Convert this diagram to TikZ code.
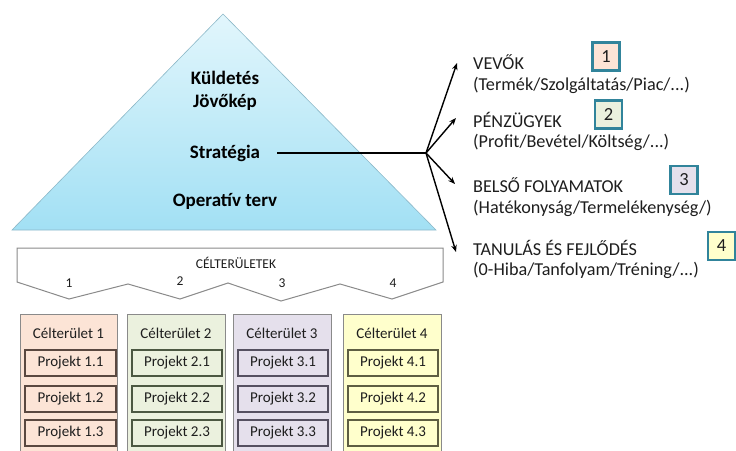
\documentclass[tikz,border=0pt]{standalone}
\usepackage{fontspec}
\setmainfont{Carlito}
\usetikzlibrary{arrows.meta}
\definecolor{pyrtop}{HTML}{E2F6FC}
\definecolor{pyrbot}{HTML}{A2E0F4}
\definecolor{pyredge}{HTML}{8CB8C8}
\definecolor{cA}{HTML}{FCE4D6}
\definecolor{cB}{HTML}{EBF1DE}
\definecolor{cC}{HTML}{E5E0EC}
\definecolor{cD}{HTML}{FFFFCC}
\definecolor{bA}{HTML}{5A4840}
\definecolor{bB}{HTML}{4C5842}
\definecolor{bC}{HTML}{555060}
\definecolor{bD}{HTML}{5E5E42}
\definecolor{teal}{HTML}{31849B}
\definecolor{txt}{HTML}{1E1E1E}
\definecolor{frame}{HTML}{8A8A8A}
\begin{document}
\begin{tikzpicture}[x=1pt,y=-1pt,
  pyr/.style={font=\fontsize{19}{21}\selectfont\bfseries, text=black, inner sep=0pt},
  cat/.style={font=\fontsize{18.2}{20}\selectfont, text=txt, inner sep=0pt, anchor=west},
  numbox/.style={draw=teal, line width=2.4pt, minimum width=27pt, minimum height=28pt, inner sep=0pt, font=\fontsize{18.5}{20}\selectfont, text=txt},
  small/.style={font=\fontsize{13.5}{16}\selectfont, text=txt, inner sep=0pt},
  head/.style={font=\fontsize{15}{17}\selectfont, text=txt, inner sep=0pt},
  proj/.style={draw, line width=1.3pt, minimum width=90pt, minimum height=26pt, inner sep=0pt, font=\fontsize{15}{17}\selectfont, text=txt},
  conn/.style={line width=1.4pt, black},
  arr/.style={line width=1.4pt, black, -{Stealth[length=7pt,width=5.5pt]}},
  banner/.style={draw=frame, line width=1pt, fill=white},
  col/.style={draw=frame, line width=1pt}
]
\useasboundingbox (0,0) rectangle (736,450);

% pyramid
\shade[top color=pyrtop, bottom color=pyrbot, draw=pyredge, line width=0.6pt]
  (223,14) -- (436,230) -- (12,230) -- cycle;
\node[pyr] (mission) at (225,78) {Küldetés};
\node[pyr] (vision) at (225,102) {Jövőkép};
\node[pyr] (strat) at (225,153) {Stratégia};
\node[pyr] (oper) at (225,201) {Operatív terv};

% connectors
\coordinate (lstart) at (277,153);
\coordinate (hub) at (426,153);
\coordinate (t1) at (457,63);
\coordinate (t2) at (456,118);
\coordinate (t3) at (455,184);
\coordinate (t4) at (456,252);
\draw[conn] (lstart) -- (hub);
\draw[arr] (hub) -- (t1);
\draw[arr] (hub) -- (t2);
\draw[arr] (hub) -- (t3);
\draw[arr] (hub) -- (t4);

% perspectives
\node[cat] (p1a) at (473,62) {VEVŐK};
\node[cat] (p1b) at (473,85) {(Termék/Szolgáltatás/Piac/...)};
\node[cat] (p2a) at (473,120) {PÉNZÜGYEK};
\node[cat] (p2b) at (473,142) {(Profit/Bevétel/Költség/...)};
\node[cat] (p3a) at (473,185) {BELSŐ FOLYAMATOK};
\node[cat] (p3b) at (473,208) {(Hatékonyság/Termelékenység/)};
\node[cat] (p4a) at (473,248) {TANULÁS ÉS FEJLŐDÉS};
\node[cat] (p4b) at (473,270) {(0-Hiba/Tanfolyam/Tréning/...)};

\node[numbox, fill=cA] (n1) at (606,56.5) {1};
\node[numbox, fill=cB] (n2) at (608.5,114.5) {2};
\node[numbox, fill=cC] (n3) at (684,180) {3};
\node[numbox, fill=cD] (n4) at (721.5,246) {4};

% banner
\draw[banner] (17,248) -- (443,248) -- (443,282) -- (392,299) -- (340,284) -- (281,301)
  -- (228,283) -- (180,299) -- (128,284) -- (69,299) -- (17,282) -- cycle;
\node[small] (celt) at (236,263) {CÉLTERÜLETEK};
\node[small] (k1) at (69,283) {1};
\node[small] (k2) at (180,281) {2};
\node[small] (k3) at (282,283) {3};
\node[small] (k4) at (393,283) {4};

% columns
\fill[cA] (20,314) rectangle (117,451);
\draw[col] (20,451) -- (20,314) -- (117,314) -- (117,451);
\fill[cB] (127,314) rectangle (225,451);
\draw[col] (127,451) -- (127,314) -- (225,314) -- (225,451);
\fill[cC] (233,314) rectangle (331,451);
\draw[col] (233,451) -- (233,314) -- (331,314) -- (331,451);
\fill[cD] (343,314) rectangle (441,451);
\draw[col] (343,451) -- (343,314) -- (441,314) -- (441,451);

\node[head] (h1) at (68.5,333) {Célterület 1};
\node[head] (h2) at (176,333) {Célterület 2};
\node[head] (h3) at (282,333) {Célterület 3};
\node[head] (h4) at (392,333) {Célterület 4};

\node[proj, draw=bA, fill=cA, minimum width=91pt] (a1) at (70.5,363) {Projekt 1.1};
\node[proj, draw=bA, fill=cA, minimum width=91pt] (a2) at (70.5,399) {Projekt 1.2};
\node[proj, draw=bA, fill=cA, minimum width=91pt] (a3) at (70.5,433) {Projekt 1.3};
\node[proj, draw=bB, fill=cB] (b1) at (177,363) {Projekt 2.1};
\node[proj, draw=bB, fill=cB] (b2) at (177,399) {Projekt 2.2};
\node[proj, draw=bB, fill=cB] (b3) at (177,433) {Projekt 2.3};
\node[proj, draw=bC, fill=cC] (c1) at (283,363) {Projekt 3.1};
\node[proj, draw=bC, fill=cC] (c2) at (283,399) {Projekt 3.2};
\node[proj, draw=bC, fill=cC] (c3) at (283,433) {Projekt 3.3};
\node[proj, draw=bD, fill=cD] (d1) at (393,363) {Projekt 4.1};
\node[proj, draw=bD, fill=cD] (d2) at (393,399) {Projekt 4.2};
\node[proj, draw=bD, fill=cD] (d3) at (393,433) {Projekt 4.3};
\end{tikzpicture}
\end{document}
